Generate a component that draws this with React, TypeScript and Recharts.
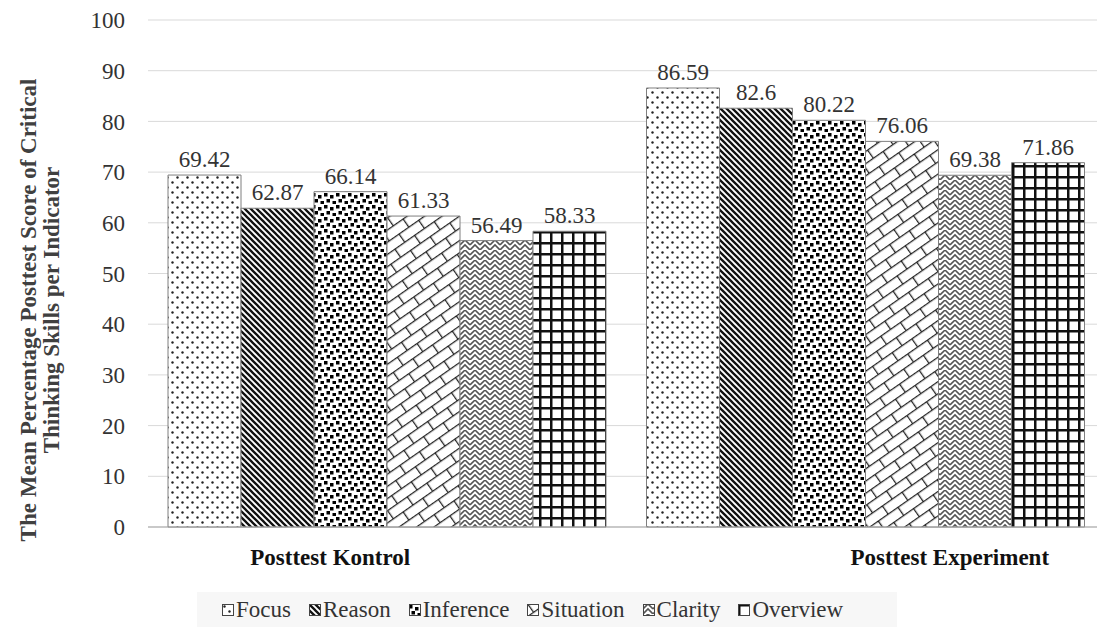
import React from "react";
import {
  BarChart,
  Bar,
  XAxis,
  YAxis,
  CartesianGrid,
  Legend,
  LabelList,
} from "recharts";

const groups = ["Posttest Kontrol", "Posttest Experiment"];
const indicators = ["Focus", "Reason", "Inference", "Situation", "Clarity", "Overview"];
const focus = [69.42, 86.59];
const reason = [62.87, 82.6];
const inference = [66.14, 80.22];
const situation = [61.33, 76.06];
const clarity = [56.49, 69.38];
const overview = [58.33, 71.86];
const yTicks = [0, 10, 20, 30, 40, 50, 60, 70, 80, 90, 100];

const series = [focus, reason, inference, situation, clarity, overview];

const data = groups.map((g, i) => {
  const row: Record<string, string | number> = { group: g };
  indicators.forEach((name, k) => {
    row[name] = series[k][i];
  });
  return row;
});

const FONT = '"Liberation Serif", "Times New Roman", serif';
const patternIds = ["p-focus", "p-reason", "p-inference", "p-situation", "p-clarity", "p-overview"];

// odd Excel label placement: group titles sit off-centre
const xLabelShift = [-57, 84];

const XTick = (props: any) => {
  const { x, y, payload, index } = props;
  return (
    <text
      x={x + xLabelShift[index]}
      y={y + 30}
      textAnchor="middle"
      fontFamily={FONT}
      fontSize={23}
      fontWeight="bold"
      fill="#111"
    >
      {payload.value}
    </text>
  );
};

const YTitle = () => (
  <g transform="translate(40, 310) rotate(-90)">
    <text textAnchor="middle" fontFamily={FONT} fontSize={23} fontWeight="bold" fill="#404040">
      <tspan x={0} y={-4}>The Mean  Percentage Posttest Score of Critical</tspan>
      <tspan x={0} y={19}>Thinking Skills per Indicator</tspan>
    </text>
  </g>
);

const LegendContent = () => (
  <div
    style={{
      display: "flex",
      alignItems: "center",
      gap: 18,
      paddingLeft: 25,
      paddingTop: 5,
      fontFamily: FONT,
      fontSize: 23,
      lineHeight: "26px",
      color: "#333",
      whiteSpace: "pre",
    }}
  >
    {indicators.map((name, i) => (
      <div key={name} style={{ display: "flex", alignItems: "center" }}>
        <svg width={13} height={13} style={{ marginRight: 1 }}>
          <rect x={0.5} y={0.5} width={11} height={11} fill={`url(#${patternIds[i]})`} stroke="#444" />
        </svg>
        <span>{name}</span>
      </div>
    ))}
  </div>
);

export default function App() {
  return (
    <div
      style={{
        position: "absolute",
        left: 0,
        top: 0,
        width: 1097,
        height: 627,
        overflow: "hidden",
        background: "#fff",
        fontFamily: FONT,
      }}
    >
      <BarChart
        width={1105}
        height={627}
        data={data}
        margin={{ top: 20, right: 0, bottom: 0, left: 0 }}
        barGap={0}
        barCategoryGap={20}
        style={{ fontFamily: FONT }}
      >
        <defs>
          <pattern id="p-focus" width="10" height="10" patternUnits="userSpaceOnUse">
            <rect width="10" height="10" fill="#fff" />
            <circle cx="2.5" cy="2.5" r="1.2" fill="#222" />
            <circle cx="7.5" cy="7.5" r="1.2" fill="#222" />
          </pattern>
          <pattern id="p-reason" width="6" height="6" patternUnits="userSpaceOnUse">
            <rect width="6" height="6" fill="#fff" />
            <path d="M-1,-1 L7,7 M-1,5 L1,7 M5,-1 L7,1" stroke="#111" strokeWidth="2.3" />
          </pattern>
          <pattern id="p-inference" width="12" height="12" patternUnits="userSpaceOnUse">
            <rect width="12" height="12" fill="#fff" />
            <rect x="0" y="1" width="3.5" height="3.5" fill="#000" />
            <rect x="6" y="3" width="3.5" height="3.5" fill="#000" />
            <rect x="2.5" y="7" width="3.5" height="3.5" fill="#000" />
            <rect x="8.5" y="9" width="3.5" height="3" fill="#000" />
          </pattern>
          <pattern
            id="p-situation"
            width="24"
            height="20"
            patternUnits="userSpaceOnUse"
            patternTransform="rotate(-35)"
          >
            <rect width="24" height="20" fill="#fff" />
            <path d="M0,0.6 H24 M0,10.6 H24 M0.6,0 V10 M12.6,10 V20" stroke="#222" strokeWidth="1.3" />
          </pattern>
          <pattern id="p-clarity" width="10" height="10" patternUnits="userSpaceOnUse">
            <rect width="10" height="10" fill="#fff" />
            <path d="M0,10 L5,5 L10,10 M0,5 L5,0 L10,5" stroke="#555" strokeWidth="1.6" fill="none" />
          </pattern>
          <pattern id="p-overview" width="11" height="11" patternUnits="userSpaceOnUse">
            <rect width="11" height="11" fill="#fff" />
            <path d="M1.25,0 V11 M0,1.25 H11" stroke="#111" strokeWidth="2.5" />
          </pattern>
        </defs>

        <CartesianGrid vertical={false} stroke="#d9d9d9" />

        <XAxis
          dataKey="group"
          height={65}
          tick={<XTick />}
          tickLine={false}
          axisLine={{ stroke: "#a6a6a6" }}
        />

        <YAxis
          width={148}
          domain={[0, 100]}
          ticks={yTicks}
          interval={0}
          tickLine={false}
          axisLine={false}
          tickMargin={17}
          tick={{ fontSize: 23, fill: "#333" }}
          label={{ content: () => <YTitle /> }}
        />

        <Legend
          verticalAlign="bottom"
          content={() => <LegendContent />}
          wrapperStyle={{ left: 197, width: 700, height: 35, background: "#f7f7f7" }}
        />

        {indicators.map((name, i) => (
          <Bar
            key={name}
            dataKey={name}
            fill={`url(#${patternIds[i]})`}
            stroke="#7f7f7f"
            strokeWidth={1}
            isAnimationActive={false}
          >
            <LabelList dataKey={name} position="top" offset={8} fontSize={23} fill="#333" />
          </Bar>
        ))}
      </BarChart>
    </div>
  );
}
